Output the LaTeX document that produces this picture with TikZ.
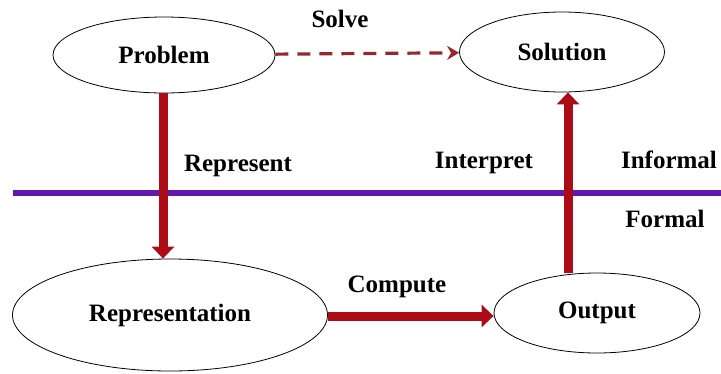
\documentclass[tikz,border=0pt]{standalone}
\usepackage{fontspec}
\setmainfont{Liberation Serif}
\usepackage{tikz}
\usetikzlibrary{shapes,arrows.meta,positioning}
\definecolor{arrowred}{RGB}{172,12,22}
\definecolor{dashred}{RGB}{150,40,45}
\definecolor{linepurple}{RGB}{98,24,172}

\begin{document}
\begin{tikzpicture}
  [
    x=1pt, y=-1pt,
    font=\fontsize{25}{29}\selectfont\bfseries,
    Oval/.style={ellipse, draw=black, thick, fill=white, inner sep=0pt},
    Word/.style={anchor=base, inner sep=0pt},
    Flow/.style={draw=arrowred, line width=9pt, -{Triangle[length=12pt,width=22pt]}},
    Guess/.style={draw=dashred, line width=3.2pt, dash pattern=on 13pt off 9pt, -{Stealth[length=12pt,width=14pt]}}
  ]
  \useasboundingbox (0,0) rectangle (721,373);
  % Border
  \draw[linepurple, line width=6pt] (13,193) -- (721,193);
  % Nodes
  \node[Oval, minimum width=222pt, minimum height=76pt] (problem) at (164, 55) {Problem};
  \node[Oval, minimum width=205pt, minimum height=80pt] (solution) at (562, 52) {Solution};
  \node[Oval, minimum width=315pt, minimum height=112pt] (repr) at (170, 315) {Representation};
  \node[Oval, minimum width=206pt, minimum height=80pt] (output) at (597, 313) {Output};
  % Labels
  \node[Word] (solve) at (340, 27) {Solve};
  \node[Word] (represent) at (238, 171) {Represent};
  \node[Word] (interpret) at (484, 168) {Interpret};
  \node[Word] (informal) at (669, 168) {Informal};
  \node[Word] (formal) at (665, 227) {Formal};
  \node[Word] (compute) at (397, 292) {Compute};
  % Lines
  \path [Guess] (problem) -- (solution);
  \path [Flow] (problem.south -| 163,0) -- (repr.north -| 163,0);
  \path [Flow] (repr.east |- 0,316) -- (output.west |- 0,316);
  \path [Flow] (output.north -| 568,0) -- (solution.south -| 568,0);
\end{tikzpicture}
\end{document}
